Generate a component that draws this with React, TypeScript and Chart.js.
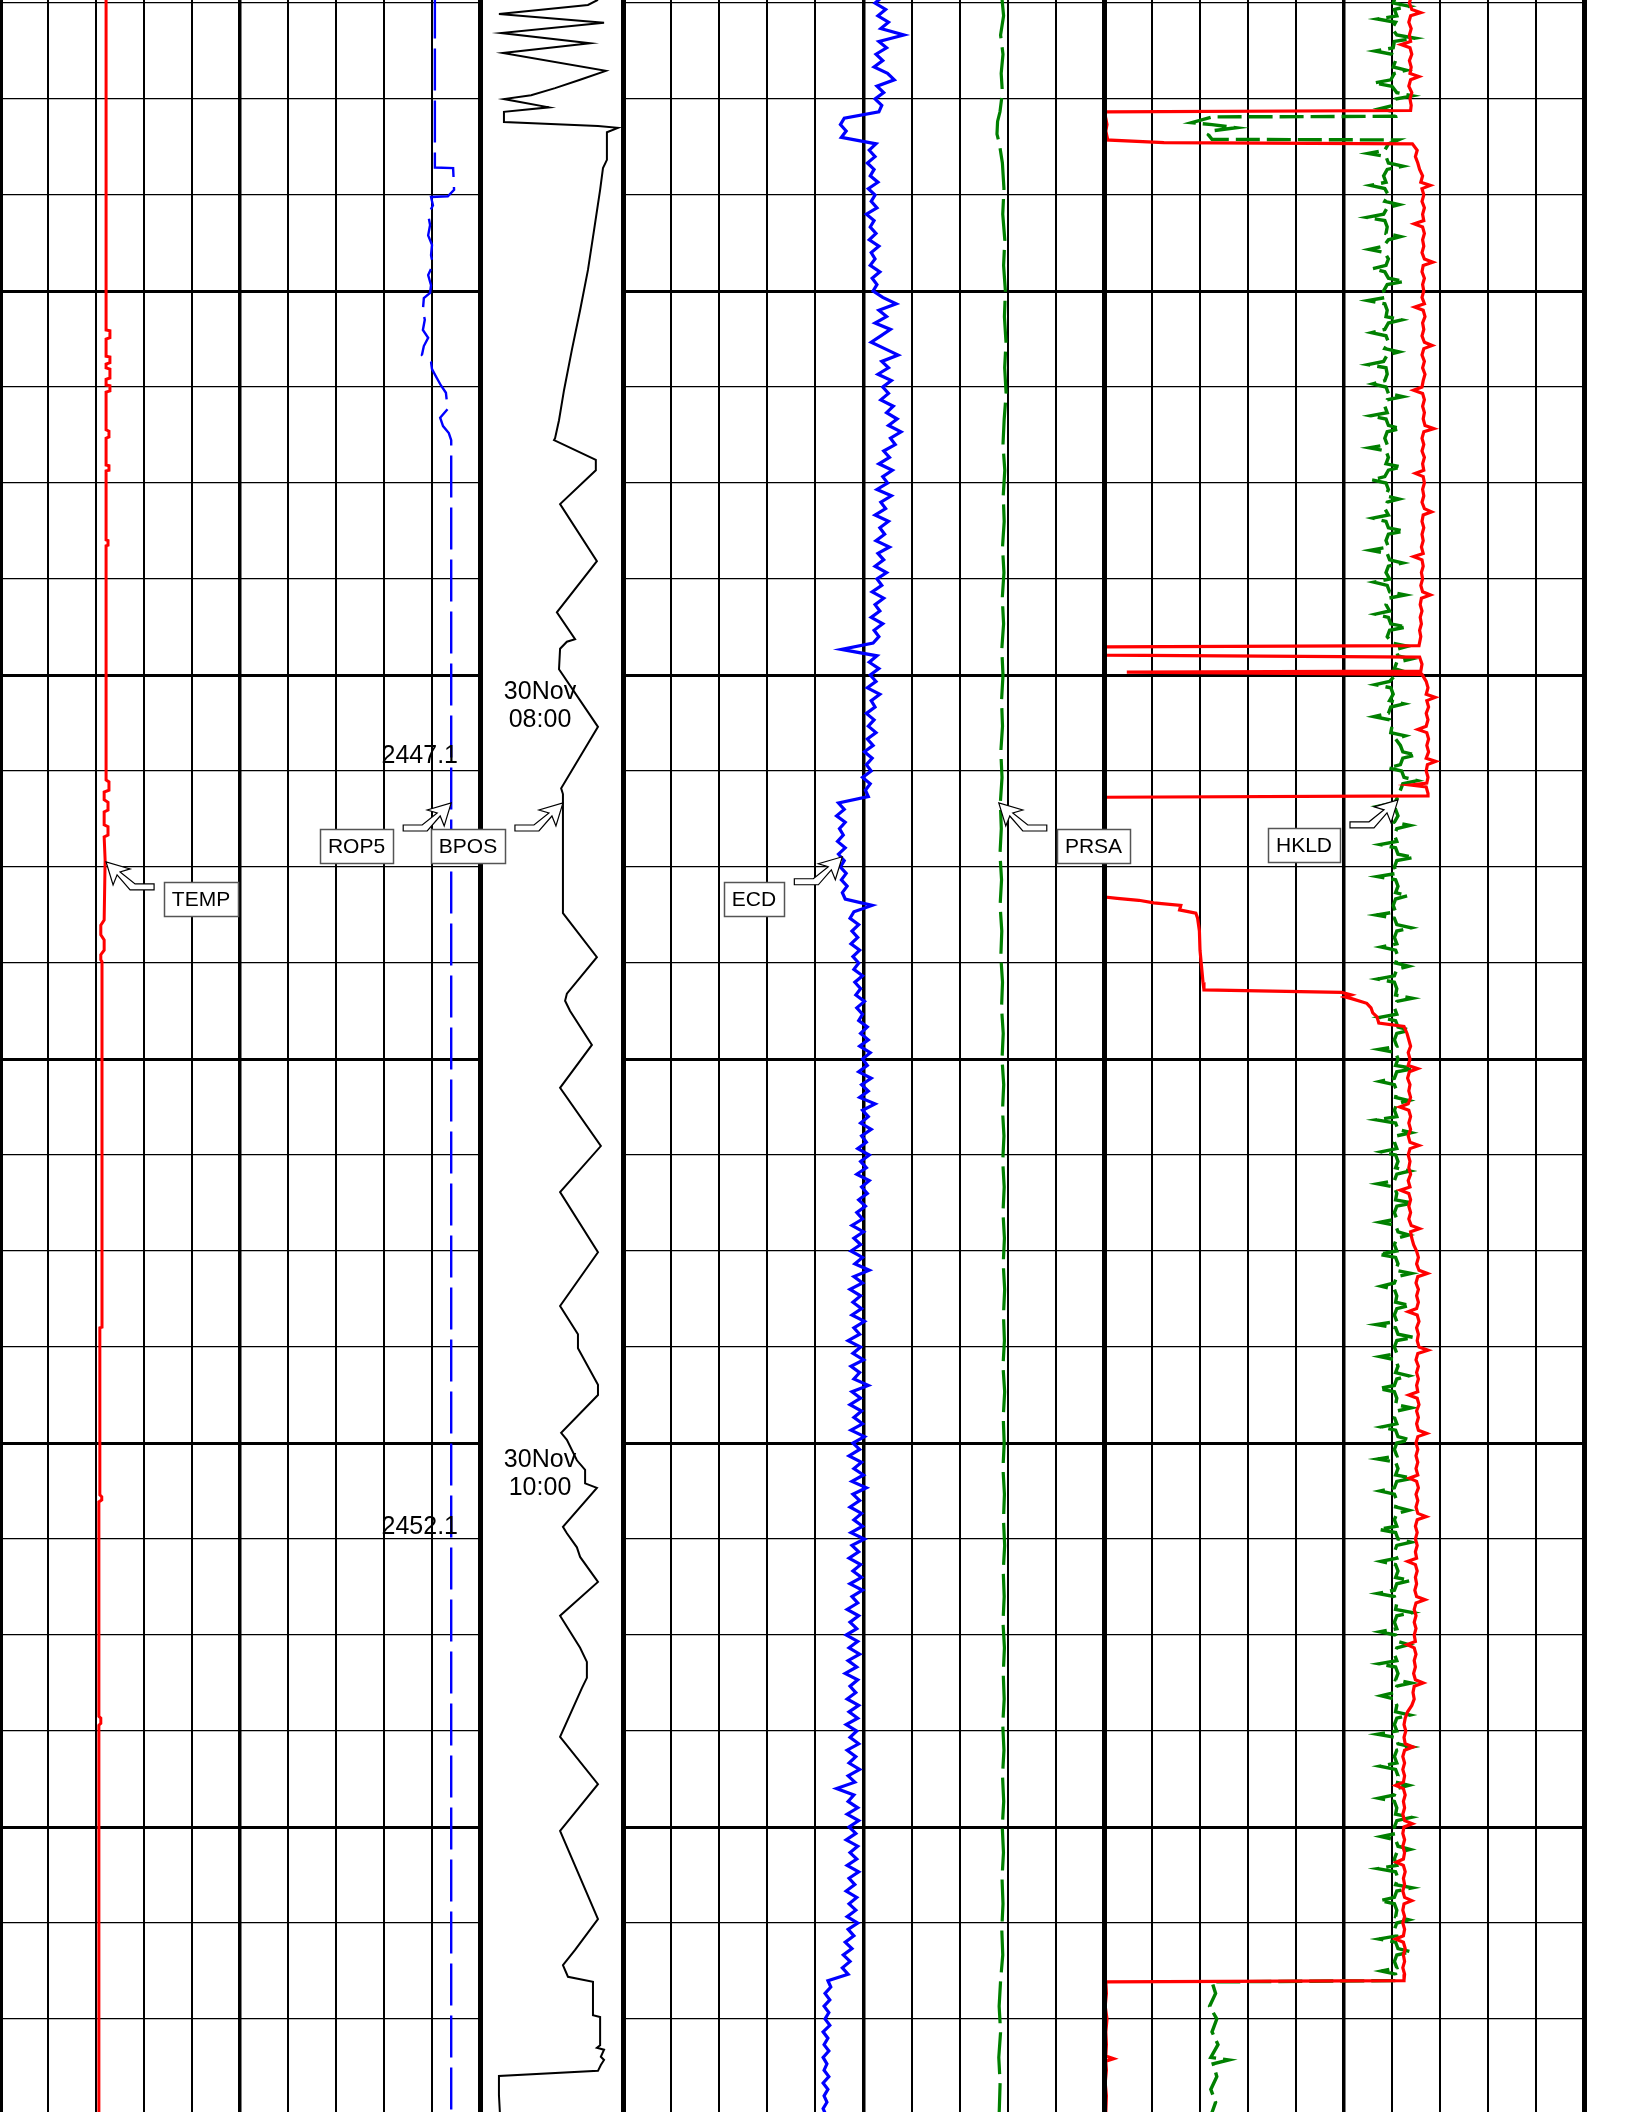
import React, { useEffect, useRef } from "react";
import { Chart, registerables } from "chart.js";

Chart.register(...registerables);

const PAGE_W = 1632;
const PAGE_H = 2112;

// Vertical axis: minutes after 30Nov 06:00 (log top ~06:14.5, bottom ~11:44.5)
const TIME_TOP = 14.53;
const TIME_BOTTOM = 344.53;
const TIME_TICKS = [15, 30, 45, 60, 75, 90, 105, 120, 135, 150, 165, 180, 195, 210, 225, 240, 255, 270, 285, 300, 315, 330];
const TRACK_TICKS = [0, 1, 2, 3, 4, 5, 6, 7, 8, 9, 10];

type Pt = [number, number]; // [minutes, value]

// ---------- Track 1 ----------
const TEMP: Pt[] = [
  [14, 22.1], [66.1, 22.1], [66.2, 22.9], [67.3, 22.9], [67.5, 22.1], [70.2, 22.1], [70.3, 22.9], [71.2, 22.9],
  [71.4, 22.1], [72.0, 22.1], [72.2, 22.9], [73.6, 22.9], [73.8, 22.1], [74.7, 22.1], [74.8, 22.9], [75.6, 22.9],
  [75.8, 22.1], [81.7, 22.1], [81.9, 22.7], [82.8, 22.7], [83.0, 22.1], [87.2, 22.1], [87.3, 22.7], [88.0, 22.7],
  [88.1, 22.1], [98.9, 22.1], [99.0, 22.5], [99.7, 22.5], [99.8, 22.1], [136.4, 22.1], [136.7, 22.7], [138.0, 22.7],
  [138.3, 21.7], [139.5, 21.7], [139.9, 22.5], [141.1, 22.5], [141.4, 21.7], [143.4, 21.7], [143.7, 22.5], [145.0, 22.5],
  [145.3, 21.7], [148.9, 21.9], [158.3, 21.7], [159.1, 21.0], [160.6, 21.0], [161.4, 21.7], [163.0, 21.7], [163.7, 21.0],
  [164.5, 21.0], [164.8, 21.25], [221.9, 21.25], [222.0, 20.8], [248.1, 20.8], [248.4, 21.2], [248.9, 21.2], [249.2, 20.6],
  [282.7, 20.6], [283.0, 21.0], [283.8, 21.0], [284.1, 20.6], [345, 20.6],
];

const ROP5: Pt[] = [
  [14, 90.6], [40.7, 90.6], [40.8, 94.4], [44.2, 94.6], [45.2, 93.3], [45.3, 89.8], [46.6, 90.2], [48.1, 89.2],
  [49.7, 89.6], [51.3, 89.2], [52.8, 90.0], [54.4, 89.8], [55.9, 90.2], [57.5, 89.2], [59.1, 89.8], [60.3, 89.6],
  [61.1, 88.3], [63.0, 88.1], [64.5, 88.5], [66.1, 88.1], [67.3, 89.2], [68.6, 88.3], [70.0, 87.9], [71.1, 89.8],
  [72.2, 90.0], [73.6, 91.0], [74.8, 91.9], [75.9, 92.9], [77.3, 93.1], [78.4, 93.3], [79.8, 91.7], [81.1, 92.3],
  [82.2, 93.5], [83.3, 94.0], [345, 94.0],
];

// ---------- Depth / time track ----------
const BPOS: Pt[] = [
  [14.5, 33.0], [15.3, 30.2], [16.7, 5.3], [18.1, 34.7], [19.7, 5.9], [21.3, 30.8], [22.8, 6.4], [25.6, 35.2],
  [27.0, 28.0], [28.3, 21.0], [29.4, 14.3], [30.0, 6.7], [31.3, 19.3], [32.0, 6.7], [33.6, 6.7], [34.2, 33.0],
  [34.5, 38.6], [35.2, 35.5], [39.5, 35.5], [40.8, 34.4], [44.2, 33.6], [50.5, 31.9], [56.7, 30.2], [63.0, 28.0],
  [69.2, 25.7], [75.5, 23.5], [80.2, 22.1], [83.0, 21.0], [83.3, 20.7], [86.4, 32.4], [88.0, 32.4], [93.3, 22.4],
  [102.2, 32.7], [110.2, 21.5], [114.4, 26.6], [114.8, 24.3], [115.9, 22.4], [119.1, 22.1], [128.1, 33.0], [137.7, 22.7],
  [138.6, 23.2], [157.2, 23.2], [164.1, 32.7], [169.8, 24.3], [170.9, 23.8], [172.5, 25.2], [177.8, 31.3], [184.5, 22.4],
  [193.6, 33.8], [200.8, 22.4], [210.2, 33.0], [218.6, 22.4], [223.0, 27.4], [225.2, 27.4], [230.9, 33.0], [232.5, 33.0],
  [238.4, 22.7], [239.5, 24.3], [242.7, 27.1], [244.2, 29.4], [246.3, 29.4], [247.0, 32.7], [253.1, 23.2], [254.1, 24.3],
  [256.3, 27.1], [257.8, 28.0], [261.7, 33.0], [267.0, 22.4], [272.0, 28.0], [274.2, 29.9], [276.7, 29.9], [278.3, 28.5],
  [285.9, 22.4], [293.3, 33.0], [300.6, 22.4], [314.4, 33.0], [319.2, 26.6], [321.6, 23.2], [323.4, 24.6], [324.2, 31.6],
  [329.4, 31.6], [329.7, 33.6], [334.1, 33.6], [334.5, 32.7], [334.8, 34.7], [335.9, 33.8], [336.4, 34.7], [337.2, 33.8],
  [338.1, 33.0], [338.9, 5.3], [341.9, 5.3], [345, 5.6],
];

const TIME_LABELS = [
  { t: 120, lines: ["30Nov", "08:00"] },
  { t: 240, lines: ["30Nov", "10:00"] },
];
const DEPTH_LABELS = [
  { t: 132.6, text: "2447.1" },
  { t: 253.1, text: "2452.1" },
];

// ---------- Track 2 ----------
// ECD sampled once a minute from 06:14
const ECD_T0 = 14;
const ECD_DT = 1;
const ECD_VALUES = [
  1.270, 1.262, 1.273, 1.265, 1.276, 1.268, 1.292, 1.266, 1.274, 1.263, 1.270, 1.261, 1.275, 1.282, 1.264, 1.271,
  1.262, 1.269, 1.266, 1.230, 1.226, 1.232, 1.227, 1.263, 1.256, 1.262, 1.254, 1.261, 1.257, 1.265, 1.255, 1.262,
  1.258, 1.264, 1.253, 1.261, 1.257, 1.263, 1.256, 1.266, 1.258, 1.262, 1.257, 1.267, 1.259, 1.264, 1.260, 1.270,
  1.284, 1.266, 1.274, 1.262, 1.278, 1.268, 1.258, 1.272, 1.286, 1.269, 1.276, 1.265, 1.279, 1.270, 1.276, 1.268,
  1.281, 1.274, 1.285, 1.276, 1.289, 1.278, 1.283, 1.271, 1.277, 1.266, 1.280, 1.270, 1.275, 1.264, 1.279, 1.268,
  1.273, 1.262, 1.276, 1.267, 1.272, 1.263, 1.277, 1.265, 1.271, 1.262, 1.274, 1.264, 1.269, 1.259, 1.271, 1.262,
  1.267, 1.258, 1.270, 1.261, 1.266, 1.260, 1.227, 1.264, 1.256, 1.266, 1.257, 1.263, 1.254, 1.267, 1.258, 1.262,
  1.253, 1.261, 1.255, 1.263, 1.254, 1.260, 1.251, 1.259, 1.253, 1.258, 1.249, 1.257, 1.252, 1.255, 1.224, 1.230,
  1.222, 1.231, 1.225, 1.229, 1.223, 1.231, 1.224, 1.230, 1.226, 1.232, 1.227, 1.233, 1.228, 1.231, 1.259, 1.240,
  1.236, 1.245, 1.238, 1.244, 1.237, 1.246, 1.239, 1.245, 1.240, 1.249, 1.241, 1.247, 1.242, 1.251, 1.243, 1.249,
  1.245, 1.254, 1.247, 1.255, 1.246, 1.257, 1.249, 1.254, 1.245, 1.258, 1.248, 1.255, 1.246, 1.262, 1.249, 1.255,
  1.247, 1.258, 1.248, 1.253, 1.244, 1.256, 1.247, 1.253, 1.243, 1.256, 1.248, 1.254, 1.245, 1.252, 1.243, 1.249,
  1.238, 1.250, 1.240, 1.247, 1.237, 1.249, 1.241, 1.256, 1.240, 1.249, 1.236, 1.247, 1.239, 1.248, 1.238, 1.251,
  1.240, 1.246, 1.234, 1.247, 1.239, 1.250, 1.237, 1.246, 1.240, 1.255, 1.238, 1.247, 1.236, 1.248, 1.240, 1.249,
  1.237, 1.251, 1.239, 1.246, 1.235, 1.248, 1.240, 1.250, 1.238, 1.253, 1.239, 1.246, 1.236, 1.248, 1.240, 1.249,
  1.237, 1.251, 1.238, 1.245, 1.235, 1.247, 1.239, 1.248, 1.236, 1.249, 1.238, 1.244, 1.233, 1.245, 1.236, 1.243,
  1.232, 1.244, 1.235, 1.246, 1.234, 1.243, 1.231, 1.244, 1.236, 1.242, 1.233, 1.245, 1.235, 1.244, 1.232, 1.243,
  1.236, 1.245, 1.233, 1.242, 1.235, 1.246, 1.234, 1.241, 1.222, 1.240, 1.234, 1.244, 1.233, 1.245, 1.235, 1.242,
  1.232, 1.244, 1.236, 1.243, 1.233, 1.245, 1.235, 1.241, 1.232, 1.243, 1.235, 1.242, 1.233, 1.244, 1.234, 1.240,
  1.231, 1.238, 1.229, 1.236, 1.228, 1.234, 1.213, 1.216, 1.210, 1.215, 1.209, 1.214, 1.210, 1.215, 1.208, 1.213,
  1.209, 1.214, 1.208, 1.212, 1.209, 1.214, 1.208, 1.213, 1.209, 1.212, 1.208, 1.211,
];

const PRSA: Pt[] = [
  [14, 315.0], [17, 316.5], [20, 314.0], [23, 316.0], [26, 314.5], [29, 315.5], [32, 313.5], [33.5, 311.5],
  [35.5, 311.0], [37, 313.0], [40, 315.5], [44, 316.8], [48, 315.8], [52, 317.5], [56, 316.5], [60, 318.0],
  [64, 317.2], [68, 318.5], [72, 317.4], [76, 318.6], [80, 317.0], [84, 316.0], [88, 317.5], [92, 316.2],
  [96, 317.0], [100, 315.6], [104, 316.8], [108, 315.4], [112, 316.5], [116, 315.0], [120, 316.0], [124, 314.8],
  [128, 315.6], [132, 314.2], [136, 315.2], [140, 313.8], [144, 314.6], [148, 313.5], [152, 314.8], [156, 313.6],
  [160, 315.0], [164, 314.2], [168, 315.6], [172, 314.8], [176, 316.2], [180, 315.2], [184, 316.6], [188, 315.6],
  [192, 316.8], [196, 315.8], [200, 317.0], [204, 316.0], [208, 317.2], [212, 316.2], [216, 317.4], [220, 316.4],
  [224, 317.2], [228, 316.0], [232, 317.4], [236, 316.2], [240, 317.0], [244, 316.0], [248, 317.2], [252, 316.4],
  [256, 317.4], [260, 316.2], [264, 317.0], [268, 316.0], [272, 317.2], [276, 316.2], [280, 317.0], [284, 315.8],
  [288, 316.8], [292, 315.6], [296, 316.6], [300, 315.4], [304, 316.4], [308, 315.2], [312, 316.0], [316, 315.0],
  [320, 315.8], [324, 314.0], [328, 312.8], [332, 314.0], [336, 312.5], [340, 313.6], [345, 312.8],
];

// ---------- Track 3 ----------
const SPPA: Pt[] = [
  [14, 256.0], [15, 254.5], [16, 256.5], [16.5, 264.0], [17, 255.5], [18, 254.0], [19, 256.0], [20, 254.5],
  [21, 255.5], [21.5, 247.5], [22, 255.0], [23, 256.5], [24, 254.5], [25, 256.0], [26, 255.0], [26.5, 262.5],
  [27, 255.5], [28, 254.0], [29, 256.5], [30, 255.0], [31, 256.0], [31.8, 255.5], [32.0, 1.0], [32.4, 0.8],
  [34, 2.5], [35, 1.5], [36.3, 3.0], [36.4, 1.5], [36.8, 50.0], [37.0, 257.0], [38, 261.0], [39, 259.5],
  [40, 261.5], [41, 263.0], [42, 265.5], [43, 264.0], [43.5, 272.0], [44, 265.0], [45, 266.5], [46, 265.0],
  [47, 267.0], [48, 265.5], [49, 266.5], [49.5, 258.5], [50, 265.5], [51, 267.0], [52, 265.5], [53, 266.5],
  [54, 265.0], [55, 267.0], [55.5, 274.0], [56, 266.0], [57, 265.0], [58, 267.0], [59, 265.5], [60, 266.5],
  [61, 265.0], [62, 267.0], [62.5, 259.0], [63, 266.0], [64, 267.5], [65, 265.5], [66, 266.5], [67, 265.0],
  [68, 267.0], [68.5, 273.5], [69, 266.5], [70, 265.0], [71, 267.0], [72, 265.5], [73, 267.5], [74, 266.0],
  [75, 265.0], [75.5, 258.0], [76, 265.5], [77, 267.0], [78, 265.5], [79, 267.0], [80, 266.0], [81, 267.5],
  [81.5, 275.0], [82, 266.5], [83, 265.0], [84, 266.5], [85, 265.0], [86, 267.0], [87, 265.5], [88, 266.5],
  [88.5, 259.5], [89, 266.0], [90, 267.0], [91, 265.5], [92, 266.5], [93, 265.0], [94, 267.0], [94.5, 273.0],
  [95, 266.0], [96, 265.0], [97, 266.5], [98, 265.0], [99, 266.0], [100, 264.5], [101, 266.0], [101.5, 258.0],
  [102, 265.0], [103, 266.0], [104, 264.5], [105, 265.5], [106, 264.0], [107, 265.5], [107.5, 272.0], [108, 264.5],
  [109, 263.5], [110, 265.0], [111, 263.5], [112, 264.5], [113, 263.0], [114, 264.0], [115.4, 262.5], [115.6, 0.5],
  [116.9, 0.5], [117.2, 263.0], [118.3, 265.0], [119.4, 264.0], [119.55, 19.0], [119.9, 265.0], [121, 268.5], [122, 270.0],
  [123, 268.5], [123.5, 276.0], [124, 269.0], [125, 270.5], [126, 268.5], [127, 270.0], [128, 268.5], [128.5, 261.5],
  [129, 269.0], [130, 270.5], [131, 269.0], [132, 270.5], [133, 268.5], [133.5, 276.5], [134, 269.5], [135, 268.5],
  [136, 270.0], [136.9, 269.0], [137.2, 255.5], [137.5, 268.5], [138.5, 270.0], [138.9, 270.0], [139.1, 0.5], [142, 1.0],
  [145, 0.5], [148, 1.5], [151, 0.8], [154.7, 1.0], [154.9, 11.0], [155.2, 29.0], [155.6, 41.5], [156.0, 64.0],
  [156.7, 63.0], [157.2, 76.5], [158, 78.0], [160, 79.5], [163, 80.0], [166, 81.5], [168, 82.5], [169.2, 83.3],
  [169.6, 198.0], [170.0, 206.0], [170.3, 201.0], [170.6, 207.0], [171.3, 219.0], [172.0, 222.5], [172.8, 224.0], [173.4, 227.5],
  [174.4, 229.0], [174.9, 250.0], [176, 252.5], [177, 254.0], [178, 255.5], [179, 253.5], [180, 255.0], [181, 253.5],
  [181.5, 261.5], [182, 254.5], [183, 253.0], [184, 255.0], [185, 254.0], [186, 255.5], [187, 253.5], [187.5, 246.5],
  [188, 254.0], [189, 255.5], [190, 254.0], [191, 255.5], [192, 253.5], [193, 255.0], [193.5, 262.5], [194, 255.0],
  [195, 253.5], [196, 255.0], [197, 254.0], [198, 255.5], [199, 253.5], [200, 255.0], [200.5, 247.0], [201, 254.0],
  [202, 255.5], [203, 254.0], [204, 255.5], [205, 254.0], [206, 256.0], [206.5, 263.0], [207, 255.5], [208, 256.5],
  [209, 258.0], [210, 260.5], [211, 262.0], [212, 260.5], [213, 262.5], [213.5, 269.5], [214, 261.5], [215, 260.0],
  [216, 262.0], [217, 260.5], [218, 262.0], [219, 260.5], [219.5, 253.5], [220, 261.0], [221, 262.5], [222, 260.5],
  [223, 262.0], [224, 261.0], [225, 262.5], [225.5, 270.0], [226, 261.5], [227, 260.0], [228, 262.0], [229, 260.5],
  [230, 262.0], [231, 260.5], [232, 261.5], [232.5, 254.0], [233, 261.0], [234, 262.5], [235, 260.5], [236, 262.0],
  [237, 260.5], [238, 262.0], [238.5, 269.0], [239, 261.5], [240, 260.0], [241, 261.5], [242, 260.0], [243, 261.5],
  [244, 260.0], [245, 261.5], [245.5, 254.5], [246, 260.5], [247, 262.0], [248, 260.0], [249, 261.5], [250, 260.0],
  [251, 261.5], [251.5, 268.5], [252, 261.0], [253, 259.5], [254, 261.0], [255, 259.5], [256, 261.0], [257, 259.5],
  [258, 260.5], [258.5, 253.0], [259, 259.5], [260, 261.0], [261, 259.5], [262, 260.5], [263, 259.0], [264, 260.5],
  [264.5, 267.5], [265, 260.0], [266, 258.5], [267, 260.0], [268, 258.5], [269, 260.0], [270, 258.5], [271, 259.5],
  [271.5, 252.5], [272, 258.5], [273, 260.0], [274, 258.5], [275, 259.5], [276, 258.0], [277, 259.5], [277.5, 266.0],
  [278, 258.5], [279, 257.5], [280, 258.5], [281, 256.5], [282, 253.0], [283, 251.0], [284, 250.0], [285, 251.5],
  [286, 250.0], [287, 251.0], [287.5, 257.5], [288, 250.5], [289, 249.0], [290, 250.5], [291, 249.0], [292, 250.5],
  [293, 249.5], [293.5, 243.0], [294, 249.5], [295, 251.0], [296, 249.5], [297, 250.5], [298, 249.0], [299, 250.5],
  [299.5, 257.0], [300, 250.0], [301, 249.0], [302, 250.5], [303, 249.0], [304, 250.5], [305, 249.5], [305.5, 243.5],
  [306, 249.5], [307, 251.0], [308, 249.5], [309, 250.5], [310, 249.0], [311, 250.5], [311.5, 256.5], [312, 250.0],
  [313, 249.0], [314, 250.5], [315, 249.0], [316, 250.5], [317, 249.5], [317.5, 243.0], [318, 249.5], [319, 251.0],
  [320, 249.5], [321, 250.5], [322, 249.0], [323, 250.5], [324.0, 250.0], [324.2, 1.5], [326, 2.0], [328, 1.0],
  [330, 2.5], [332, 1.5], [334, 2.0], [335.8, 1.5], [336.2, 8.0], [336.6, 1.5], [338, 2.0], [340, 1.0],
  [342, 2.0], [344.6, 1.5],
];

const HKLD: Pt[] = [
  [14, 121.5], [15, 120.5], [15.5, 127.0], [16, 121.0], [17, 122.0], [17.5, 114.0], [18, 121.5], [19, 120.0],
  [20, 122.0], [20.5, 129.5], [21, 121.0], [22, 120.5], [22.5, 113.0], [23, 120.0], [24, 121.5], [25, 120.5],
  [25.5, 126.0], [26, 121.0], [27, 119.5], [27.5, 112.5], [28, 120.0], [29, 122.0], [29.5, 128.5], [30, 121.5],
  [31, 120.5], [31.5, 115.0], [32, 121.0], [32.7, 121.5], [32.8, 45.0], [33.7, 36.5], [34.0, 45.0], [34.5, 55.0],
  [35.0, 44.5], [35.6, 43.5], [36.3, 45.0], [36.4, 122.5], [37, 118.5], [38, 117.0], [38.5, 110.0], [39, 117.5],
  [40, 118.5], [40.5, 124.5], [41, 118.0], [42, 116.5], [43, 117.5], [43.5, 111.0], [44, 117.0], [45, 118.5],
  [46, 117.0], [46.5, 123.0], [47, 118.0], [48, 116.5], [48.5, 109.5], [49, 117.0], [50, 118.0], [51, 117.5],
  [51.5, 123.5], [52, 118.5], [53, 116.5], [53.5, 110.5], [54, 117.0], [55, 118.5], [56, 117.5], [56.5, 112.0],
  [57, 117.0], [58, 118.5], [58.5, 125.0], [59, 118.0], [60, 116.5], [61, 117.5], [61.5, 110.0], [62, 117.0],
  [63, 118.0], [64, 117.5], [64.5, 124.0], [65, 118.5], [66, 117.0], [66.5, 111.5], [67, 117.5], [68, 118.5],
  [69, 117.0], [69.5, 123.0], [70, 118.0], [71, 116.5], [71.5, 110.0], [72, 117.5], [73, 118.0], [74, 117.0],
  [74.5, 112.0], [75, 117.5], [76, 118.5], [76.5, 124.5], [77, 118.0], [78, 117.0], [79, 118.0], [79.5, 111.0],
  [80, 117.5], [81, 118.5], [81.5, 123.5], [82, 118.0], [83, 117.0], [84, 118.0], [84.5, 110.5], [85, 117.5],
  [86, 118.5], [87, 117.5], [87.5, 124.0], [88, 118.5], [89, 117.0], [89.5, 111.5], [90, 117.5], [91, 118.5],
  [92, 117.5], [92.5, 123.0], [93, 118.0], [94, 117.0], [95, 118.5], [95.5, 112.0], [96, 117.5], [97, 118.5],
  [97.5, 125.0], [98, 118.5], [99, 117.5], [100, 118.5], [100.5, 111.0], [101, 118.0], [102, 119.0], [102.5, 124.5],
  [103, 118.5], [104, 117.5], [105, 119.0], [105.5, 112.5], [106, 118.0], [107, 119.0], [107.5, 125.5], [108, 118.5],
  [109, 117.5], [110, 119.0], [110.5, 113.0], [111, 118.5], [112, 119.5], [112.5, 126.0], [113, 119.0], [114, 118.0],
  [115, 120.0], [115.5, 126.5], [116, 121.5], [117, 122.5], [117.5, 128.0], [118, 122.0], [119, 121.0], [119.5, 125.5],
  [120, 121.5], [121, 119.0], [121.5, 113.0], [122, 119.5], [123, 120.5], [124, 119.0], [124.5, 125.0], [125, 119.5],
  [126, 118.5], [126.5, 112.5], [127, 119.0], [128, 120.0], [129, 119.5], [129.5, 125.5], [130, 121.5], [131, 123.5],
  [132, 124.5], [132.5, 130.0], [133, 124.5], [134, 123.5], [134.5, 118.5], [135, 124.0], [136, 125.0], [136.5, 130.5],
  [137, 124.5], [138, 123.5], [139, 122.5], [140, 121.0], [140.5, 114.5], [141, 121.5], [142, 122.5], [143, 121.0],
  [143.5, 127.5], [144, 122.0], [145, 121.0], [146, 122.0], [146.5, 115.0], [147, 121.5], [148, 122.5], [148.5, 129.0],
  [149, 122.0], [150, 121.0], [151, 122.0], [151.5, 114.0], [152, 121.5], [153, 122.5], [154, 121.5], [154.5, 126.5],
  [155, 121.5], [156, 120.5], [157, 121.5], [157.5, 113.5], [158, 121.0], [159, 122.0], [159.5, 128.0], [160, 122.0],
  [161, 121.0], [162, 122.0], [162.5, 115.5], [163, 121.5], [164, 122.5], [165, 121.5], [165.5, 127.0], [166, 122.0],
  [167, 121.0], [167.5, 114.0], [168, 121.0], [169, 122.0], [170, 121.5], [170.5, 128.5], [171, 122.0], [172, 121.0],
  [173, 122.0], [173.5, 115.0], [174, 121.5], [175, 122.5], [175.5, 127.5], [176, 122.0], [177, 121.0], [178, 122.0],
  [178.5, 114.5], [179, 121.5], [180, 122.5], [181, 121.5], [181.5, 129.0], [182, 122.0], [183, 121.0], [183.5, 115.0],
  [184, 121.0], [185, 122.0], [186, 121.5], [186.5, 127.0], [187, 122.0], [188, 121.0], [189, 122.0], [189.5, 113.5],
  [190, 121.5], [191, 122.5], [191.5, 128.0], [192, 122.0], [193, 121.0], [194, 122.0], [194.5, 115.5], [195, 121.5],
  [196, 122.5], [197, 121.5], [197.5, 127.5], [198, 122.0], [199, 121.0], [199.5, 114.0], [200, 121.0], [201, 122.0],
  [202, 121.5], [202.5, 128.5], [203, 122.0], [204, 121.0], [205, 122.0], [205.5, 115.0], [206, 121.5], [207, 122.5],
  [207.5, 127.0], [208, 122.0], [209, 121.0], [210, 122.0], [210.5, 114.5], [211, 121.5], [212, 122.5], [213, 121.5],
  [213.5, 128.0], [214, 122.0], [215, 121.0], [215.5, 115.5], [216, 121.0], [217, 122.0], [218, 121.5], [218.5, 127.5],
  [219, 122.0], [220, 121.0], [221, 122.0], [221.5, 113.5], [222, 121.5], [223, 122.5], [223.5, 129.0], [224, 122.0],
  [225, 121.0], [226, 122.0], [226.5, 115.0], [227, 121.5], [228, 122.5], [229, 121.5], [229.5, 127.0], [230, 122.0],
  [231, 121.0], [231.5, 114.5], [232, 121.0], [233, 122.0], [234, 121.5], [234.5, 128.0], [235, 122.0], [236, 121.0],
  [237, 122.0], [237.5, 115.5], [238, 121.5], [239, 122.5], [239.5, 127.5], [240, 122.0], [241, 121.0], [242, 122.0],
  [242.5, 114.0], [243, 121.5], [244, 122.5], [245, 121.5], [245.5, 128.5], [246, 122.0], [247, 121.0], [247.5, 115.0],
  [248, 121.0], [249, 122.0], [250, 121.5], [250.5, 127.0], [251, 122.0], [252, 121.0], [253, 122.0], [253.5, 114.5],
  [254, 121.5], [255, 122.5], [255.5, 128.0], [256, 122.0], [257, 121.0], [258, 122.0], [258.5, 115.5], [259, 121.5],
  [260, 122.5], [261, 121.5], [261.5, 127.5], [262, 122.0], [263, 121.0], [263.5, 114.0], [264, 121.0], [265, 122.0],
  [266, 121.5], [266.5, 128.5], [267, 122.0], [268, 121.0], [269, 122.0], [269.5, 115.0], [270, 121.5], [271, 122.5],
  [271.5, 127.0], [272, 122.0], [273, 121.0], [274, 122.0], [274.5, 114.5], [275, 121.5], [276, 122.5], [277, 121.5],
  [277.5, 128.0], [278, 122.0], [279, 121.0], [279.5, 115.5], [280, 121.0], [281, 122.0], [282, 121.5], [282.5, 127.5],
  [283, 122.0], [284, 121.0], [285, 122.0], [285.5, 114.0], [286, 121.5], [287, 122.5], [287.5, 128.5], [288, 122.0],
  [289, 121.0], [290, 122.0], [290.5, 115.0], [291, 121.5], [292, 122.5], [293, 121.5], [293.5, 127.0], [294, 122.0],
  [295, 121.0], [295.5, 114.5], [296, 121.0], [297, 122.0], [298, 121.5], [298.5, 128.0], [299, 122.0], [300, 121.0],
  [301, 122.0], [301.5, 115.5], [302, 121.5], [303, 122.5], [303.5, 127.5], [304, 122.0], [305, 121.0], [306, 122.0],
  [306.5, 114.0], [307, 121.5], [308, 122.5], [309, 121.5], [309.5, 128.5], [310, 122.0], [311, 121.0], [311.5, 115.0],
  [312, 121.0], [313, 122.0], [314, 121.5], [314.5, 127.0], [315, 122.0], [316, 121.0], [317, 122.0], [317.5, 114.5],
  [318, 121.5], [319, 122.5], [319.5, 128.0], [320, 122.0], [321, 121.0], [322, 122.0], [322.5, 115.5], [323, 121.5],
  [324.0, 122.0], [324.2, 45.0], [326, 46.5], [328, 44.0], [330, 47.0], [332, 45.0], [334, 47.5], [336, 44.5],
  [336.4, 52.0], [337, 45.5], [339, 47.0], [341, 44.5], [343, 46.5], [344.6, 45.0],
];

// ---------- layout / style configuration ----------
const FONT = '"Liberation Sans", Arial, Helvetica, sans-serif';

type Callout = { text: string; scale: string; value: number; t: number; side: "left" | "right"; boxDy: number };

type Spec = {
  left: number;
  right: number;
  grid: boolean;
  axes: { id: string; min: number; max: number }[];
  datasets: { label: string; axis: string; points: Pt[]; color: string; width: number; dash?: number[] }[];
  callouts: Callout[];
  labels?: boolean;
};

const ecdPoints: Pt[] = ECD_VALUES.map((v, i) => [ECD_T0 + i * ECD_DT, v]);

const TRACK1: Spec = {
  left: 0, right: 480, grid: true,
  axes: [{ id: "xTemp", min: 0, max: 100 }, { id: "xRop", min: 0, max: 100 }],
  datasets: [
    { label: "TEMP", axis: "xTemp", points: TEMP, color: "#ff0000", width: 3 },
    { label: "ROP5", axis: "xRop", points: ROP5, color: "#0000ff", width: 2.4, dash: [42, 10] },
  ],
  callouts: [
    { text: "TEMP", scale: "xTemp", value: 22.1, t: 149.2, side: "right", boxDy: 20 },
    { text: "ROP5", scale: "xRop", value: 94.0, t: 140.0, side: "left", boxDy: 26 },
  ],
};

const DEPTH: Spec = {
  left: 480, right: 623, grid: false,
  axes: [{ id: "xBpos", min: 0, max: 40 }],
  datasets: [{ label: "BPOS", axis: "xBpos", points: BPOS, color: "#000000", width: 2 }],
  callouts: [{ text: "BPOS", scale: "xBpos", value: 23.2, t: 140.0, side: "left", boxDy: 26 }],
  labels: true,
};

const TRACK2: Spec = {
  left: 623, right: 1104, grid: true,
  axes: [{ id: "xEcd", min: 1.0, max: 1.5 }, { id: "xPrsa", min: 0, max: 400 }],
  datasets: [
    { label: "ECD", axis: "xEcd", points: ecdPoints, color: "#0000ff", width: 3.2 },
    { label: "PRSA", axis: "xPrsa", points: PRSA, color: "#008000", width: 3.2, dash: [42, 9] },
  ],
  callouts: [
    { text: "ECD", scale: "xEcd", value: 1.228, t: 148.4, side: "left", boxDy: 25 },
    { text: "PRSA", scale: "xPrsa", value: 312.5, t: 140.0, side: "right", boxDy: 26 },
  ],
};

const TRACK3: Spec = {
  left: 1104, right: 1584, grid: true,
  axes: [{ id: "xSppa", min: 0, max: 400 }, { id: "xHkld", min: 0, max: 200 }],
  datasets: [
    { label: "SPPA", axis: "xSppa", points: SPPA, color: "#ff0000", width: 3.2 },
    { label: "HKLD", axis: "xHkld", points: HKLD, color: "#008000", width: 3.4, dash: [24, 7] },
  ],
  callouts: [{ text: "HKLD", scale: "xHkld", value: 122.5, t: 139.5, side: "left", boxDy: 28 }],
};

const ARROW_SHAPE: [number, number][] = [
  [-48, 22], [-29, 22], [-14, 10], [-24, 7], [0, 0], [-7, 23], [-11, 13], [-24, 28], [-48, 28],
];

function drawCallout(ctx: CanvasRenderingContext2D, px: number, py: number, c: Callout) {
  const s = c.side === "left" ? 1 : -1;
  ctx.save();
  ctx.beginPath();
  ARROW_SHAPE.forEach(([dx, dy], i) => {
    const x = px + s * dx;
    const y = py + dy;
    if (i === 0) ctx.moveTo(x, y);
    else ctx.lineTo(x, y);
  });
  ctx.closePath();
  ctx.fillStyle = "#ffffff";
  ctx.fill();
  ctx.lineWidth = 1.2;
  ctx.strokeStyle = "#000000";
  ctx.lineJoin = "miter";
  ctx.setLineDash([]);
  ctx.stroke();

  ctx.font = `21px ${FONT}`;
  const tw = ctx.measureText(c.text).width;
  const bw = Math.round(tw + 16);
  const bh = 34;
  const bx = Math.round(c.side === "left" ? px - 58 - bw : px + 58);
  const by = Math.round(py + c.boxDy);
  ctx.fillStyle = "#ffffff";
  ctx.fillRect(bx, by, bw, bh);
  ctx.lineWidth = 1.5;
  ctx.strokeStyle = "#555555";
  ctx.strokeRect(bx + 0.5, by + 0.5, bw, bh);
  ctx.fillStyle = "#000000";
  ctx.textAlign = "center";
  ctx.textBaseline = "middle";
  ctx.fillText(c.text, bx + bw / 2, by + bh / 2 + 1);
  ctx.restore();
}

function buildChart(canvas: HTMLCanvasElement, spec: Spec) {
  const scales: any = {
    y: {
      type: "linear",
      axis: "y",
      position: "left",
      min: TIME_TOP,
      max: TIME_BOTTOM,
      reverse: true,
      display: spec.grid,
      afterBuildTicks: (s: any) => {
        s.ticks = TIME_TICKS.map((v) => ({ value: v }));
      },
      ticks: { display: false },
      grid: {
        drawTicks: false,
        color: "#000000",
        lineWidth: (c: any) => (c.tick && c.tick.value % 60 === 0 ? 3 : 1.2),
      },
      border: { display: false },
    },
  };
  if (spec.grid) {
    scales.xGrid = {
      type: "linear",
      axis: "x",
      position: "bottom",
      min: 0,
      max: 10,
      afterBuildTicks: (s: any) => {
        s.ticks = TRACK_TICKS.map((v) => ({ value: v }));
      },
      ticks: { display: false },
      grid: {
        drawTicks: false,
        color: "#000000",
        lineWidth: (c: any) => {
          const v = c.tick ? c.tick.value : 0;
          return v === 0 || v === 10 ? 5 : v === 5 ? 3.5 : 2;
        },
      },
      border: { display: false },
    };
  }
  spec.axes.forEach((a) => {
    scales[a.id] = { type: "linear", axis: "x", position: "bottom", min: a.min, max: a.max, display: false };
  });

  const overlay = {
    id: "logOverlay",
    afterDatasetsDraw(chart: any) {
      const ctx: CanvasRenderingContext2D = chart.ctx;
      const yScale = chart.scales.y;
      if (spec.labels) {
        const area = chart.chartArea;
        ctx.save();
        ctx.fillStyle = "#000000";
        ctx.font = `25px ${FONT}`;
        ctx.textBaseline = "middle";
        ctx.textAlign = "center";
        TIME_LABELS.forEach((l) => {
          const y0 = yScale.getPixelForValue(l.t);
          ctx.fillText(l.lines[0], area.left + 60, y0 + 17);
          ctx.fillText(l.lines[1], area.left + 60, y0 + 45);
        });
        ctx.textAlign = "right";
        DEPTH_LABELS.forEach((l) => {
          ctx.fillText(l.text, area.left - 22, yScale.getPixelForValue(l.t));
        });
        ctx.restore();
      }
      spec.callouts.forEach((c) => {
        const px = chart.scales[c.scale].getPixelForValue(c.value);
        const py = yScale.getPixelForValue(c.t);
        drawCallout(ctx, px, py, c);
      });
    },
  };

  return new Chart(canvas, {
    type: "line",
    data: {
      datasets: spec.datasets.map((d) => ({
        label: d.label,
        data: d.points.map(([t, v]) => ({ x: v, y: t })),
        xAxisID: d.axis,
        yAxisID: "y",
        borderColor: d.color,
        backgroundColor: d.color,
        borderWidth: d.width,
        borderDash: d.dash || [],
        borderCapStyle: "butt",
        borderJoinStyle: "miter",
        pointRadius: 0,
        pointHoverRadius: 0,
        fill: false,
        tension: 0,
      })),
    } as any,
    options: {
      indexAxis: "y",
      responsive: false,
      maintainAspectRatio: false,
      animation: false,
      devicePixelRatio: 1,
      events: [],
      layout: {
        padding: { left: spec.left, right: PAGE_W - spec.right, top: 0, bottom: 0 },
        autoPadding: false,
      },
      plugins: {
        legend: { display: false },
        title: { display: false },
        tooltip: { enabled: false },
      },
      scales,
    } as any,
    plugins: [overlay],
  });
}

const canvasStyle: React.CSSProperties = {
  position: "absolute",
  left: 0,
  top: 0,
  width: PAGE_W,
  height: PAGE_H,
  display: "block",
};

export default function App() {
  const t1 = useRef<HTMLCanvasElement>(null);
  const dp = useRef<HTMLCanvasElement>(null);
  const t2 = useRef<HTMLCanvasElement>(null);
  const t3 = useRef<HTMLCanvasElement>(null);

  useEffect(() => {
    const charts: Chart[] = [];
    if (t1.current) charts.push(buildChart(t1.current, TRACK1));
    if (dp.current) charts.push(buildChart(dp.current, DEPTH));
    if (t3.current) charts.push(buildChart(t3.current, TRACK3));
    if (t2.current) charts.push(buildChart(t2.current, TRACK2));
    return () => charts.forEach((c) => c.destroy());
  }, []);

  return (
    <div style={{ position: "absolute", left: 0, top: 0, width: PAGE_W, height: PAGE_H, background: "#ffffff", overflow: "hidden" }}>
      <canvas ref={t1} width={PAGE_W} height={PAGE_H} style={canvasStyle} />
      <canvas ref={dp} width={PAGE_W} height={PAGE_H} style={canvasStyle} />
      <canvas ref={t3} width={PAGE_W} height={PAGE_H} style={canvasStyle} />
      <canvas ref={t2} width={PAGE_W} height={PAGE_H} style={canvasStyle} />
    </div>
  );
}
